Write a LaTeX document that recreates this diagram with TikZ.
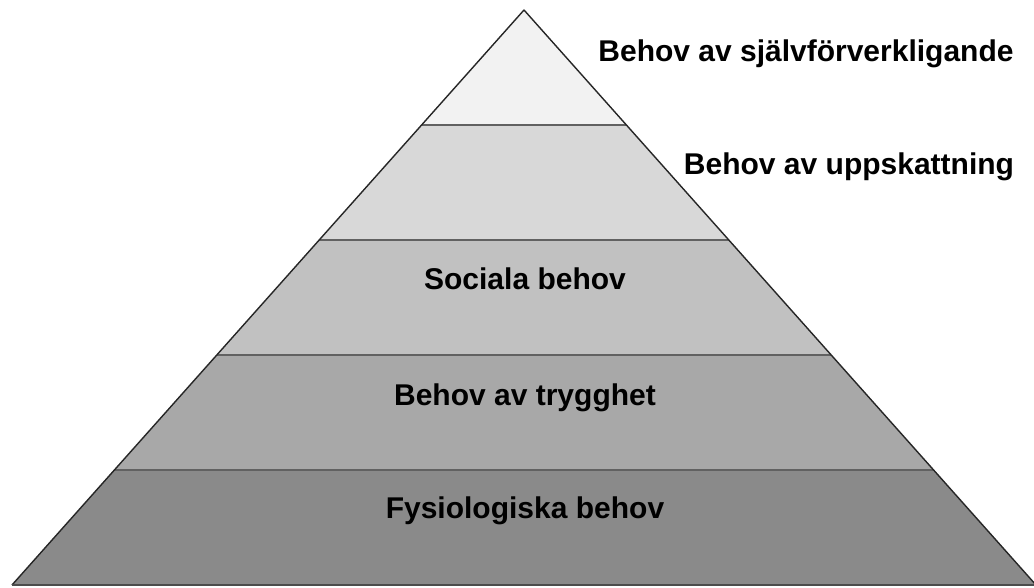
\documentclass[tikz,border=0pt]{standalone}
\usepackage{fontspec}
\setmainfont{Liberation Sans}
\definecolor{band1}{HTML}{F2F2F2}
\definecolor{band2}{HTML}{D8D8D8}
\definecolor{band3}{HTML}{C1C1C1}
\definecolor{band4}{HTML}{A8A8A8}
\definecolor{band5}{HTML}{8A8A8A}
\begin{document}
\begin{tikzpicture}[x=1pt,y=-1pt,
  label/.style={font=\bfseries\fontsize{30}{34}\selectfont, text=black, inner sep=0pt, anchor=base},
  divider/.style={draw=black!62, line width=2pt},
  outline/.style={draw=black!85, line width=1.4pt, line join=round}]
\useasboundingbox (0,0) rectangle (1034,588);
% pyramid corners
\coordinate (apex) at (524,10);
\coordinate (bl) at (12,585);
\coordinate (br) at (1036,585);
% band boundaries (five equal heights)
\foreach \i in {1,...,4} {
  \pgfmathsetmacro{\yy}{10+115*\i}
  \pgfmathsetmacro{\hw}{\i*512/5}
  \coordinate (L\i) at ({524-\hw},\yy);
  \coordinate (R\i) at ({524+\hw},\yy);
}
\fill[band1] (apex) -- (R1) -- (L1) -- cycle;
\fill[band2] (L1) -- (R1) -- (R2) -- (L2) -- cycle;
\fill[band3] (L2) -- (R2) -- (R3) -- (L3) -- cycle;
\fill[band4] (L3) -- (R3) -- (R4) -- (L4) -- cycle;
\fill[band5] (L4) -- (R4) -- (br) -- (bl) -- cycle;
\foreach \i in {1,...,4} \draw[divider] (L\i) -- (R\i);
\draw[outline] (bl) -- (apex) -- (br);
\draw[draw=black!70, line width=1.6pt] (bl) -- (br);
% level labels, placed by their baselines
\node[label] (t1) at (806,62) {Behov av självförverkligande};
\node[label] (t2) at (849,175) {Behov av uppskattning};
\node[label] (t3) at (525,290) {Sociala behov};
\node[label] (t4) at (525,405) {Behov av trygghet};
\node[label] (t5) at (525,518) {Fysiologiska behov};
\end{tikzpicture}
\end{document}
